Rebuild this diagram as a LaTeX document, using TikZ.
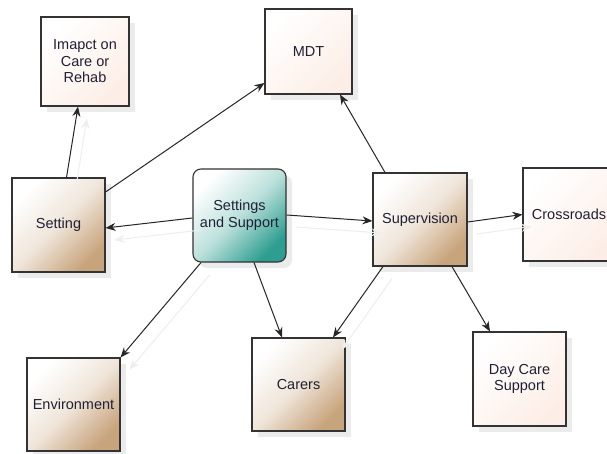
\documentclass[tikz,border=0pt]{standalone}
\usepackage{fontspec}
\setmainfont{Liberation Sans}
\usetikzlibrary{arrows.meta,shadows}
\definecolor{tanc}{HTML}{C8A47C}
\definecolor{creamc}{HTML}{FCEEE6}
\definecolor{tealc}{HTML}{2E9E90}
\definecolor{txt}{HTML}{202035}
\definecolor{edge}{HTML}{333333}
\definecolor{ghostc}{HTML}{EEEEEE}
\tikzset{
  boxbase/.style={draw=edge, line width=1.1pt, inner sep=2pt, align=center,
    text=txt, font=\fontsize{14.5}{16.5}\selectfont,
    drop shadow={shadow xshift=6pt, shadow yshift=-6pt, fill=black, opacity=.08}},
  tanbox/.style={boxbase, shading=axis, top color=white, bottom color=tanc, middle color=tanc!28!white, shading angle=45},
  creambox/.style={boxbase, shading=axis, top color=white, bottom color=creamc, shading angle=45},
  tealbox/.style={boxbase, rounded corners=8pt, shading=axis, top color=white, bottom color=tealc, middle color=tealc!32!white, shading angle=45},
  conn/.style={draw=black!85, line width=1pt, -{Stealth[length=10pt,width=8pt]}},
  ghost/.style={draw=ghostc, line width=1pt, -{Stealth[length=10pt,width=8pt]},
    transform canvas={shift={(9pt,-12pt)}}}
}
\begin{document}
\begin{tikzpicture}[x=1pt,y=-1pt]
\useasboundingbox (0,0) rectangle (607,454);
\fill[white] (0,0) rectangle (607,454);

\node[creambox, minimum width=88pt, minimum height=89pt] (imp) at (85,61.5) {Imapct on\\Care or\\Rehab};
\node[creambox, minimum width=87pt, minimum height=85pt] (mdt) at (308.5,51.5) {MDT};
\node[tanbox, minimum width=93pt, minimum height=94pt] (set) at (58.5,225) {Setting};
\node[tealbox, minimum width=93pt, minimum height=93pt] (ss) at (239.5,215.5) {Settings\\and Support};
\node[tanbox, minimum width=94pt, minimum height=93pt] (sup) at (420,219.5) {Supervision};
\node[creambox, minimum width=94pt, minimum height=93pt, text width=90pt] (cross) at (570,214.5) {\hspace*{-2pt}Crossroads};
\node[tanbox, minimum width=93pt, minimum height=93pt] (car) at (298.5,384.5) {Carers};
\node[creambox, minimum width=93pt, minimum height=94pt] (day) at (519.5,379) {Day Care\\Support};
\node[tanbox, minimum width=93pt, minimum height=93pt] (env) at (73.5,404.5) {Environment};

% faint connector shadows
\begin{scope}
\draw[ghost] ([xshift=8pt]set.north) -- ([xshift=-7pt]imp.south);
\draw[ghost] ([yshift=-2.5pt]ss.west) -- ([yshift=-3pt]set.east);
\draw[ghost] ([yshift=0.5pt]ss.east) -- ([yshift=-1.5pt]sup.west);
\draw[ghost] ([xshift=-38.5pt]ss.south) -- (env.north east);
\draw[ghost] ([yshift=-2.5pt]sup.east) -- (cross.west);
\draw[ghost] ([xshift=-37pt]sup.south) -- ([xshift=34.5pt]car.north);
\end{scope}

% connectors
\draw[conn] ([xshift=8pt]set.north) -- ([xshift=-7pt]imp.south);
\draw[conn] ([yshift=33pt]set.east) -- ([yshift=-31.5pt]mdt.west);
\draw[conn] ([yshift=-2.5pt]ss.west) -- ([yshift=-3pt]set.east);
\draw[conn] ([yshift=0.5pt]ss.east) -- ([yshift=-1.5pt]sup.west);
\draw[conn] ([xshift=-38.5pt]ss.south) -- (env.north east);
\draw[conn] ([xshift=14.5pt]ss.south) -- ([xshift=-16.5pt]car.north);
\draw[conn] ([xshift=-35pt]sup.north) -- ([xshift=31.5pt]mdt.south);
\draw[conn] ([yshift=-2.5pt]sup.east) -- (cross.west);
\draw[conn] ([xshift=-37pt]sup.south) -- ([xshift=34.5pt]car.north);
\draw[conn] ([xshift=32pt]sup.south) -- ([xshift=-29.5pt]day.north);
\end{tikzpicture}
\end{document}
